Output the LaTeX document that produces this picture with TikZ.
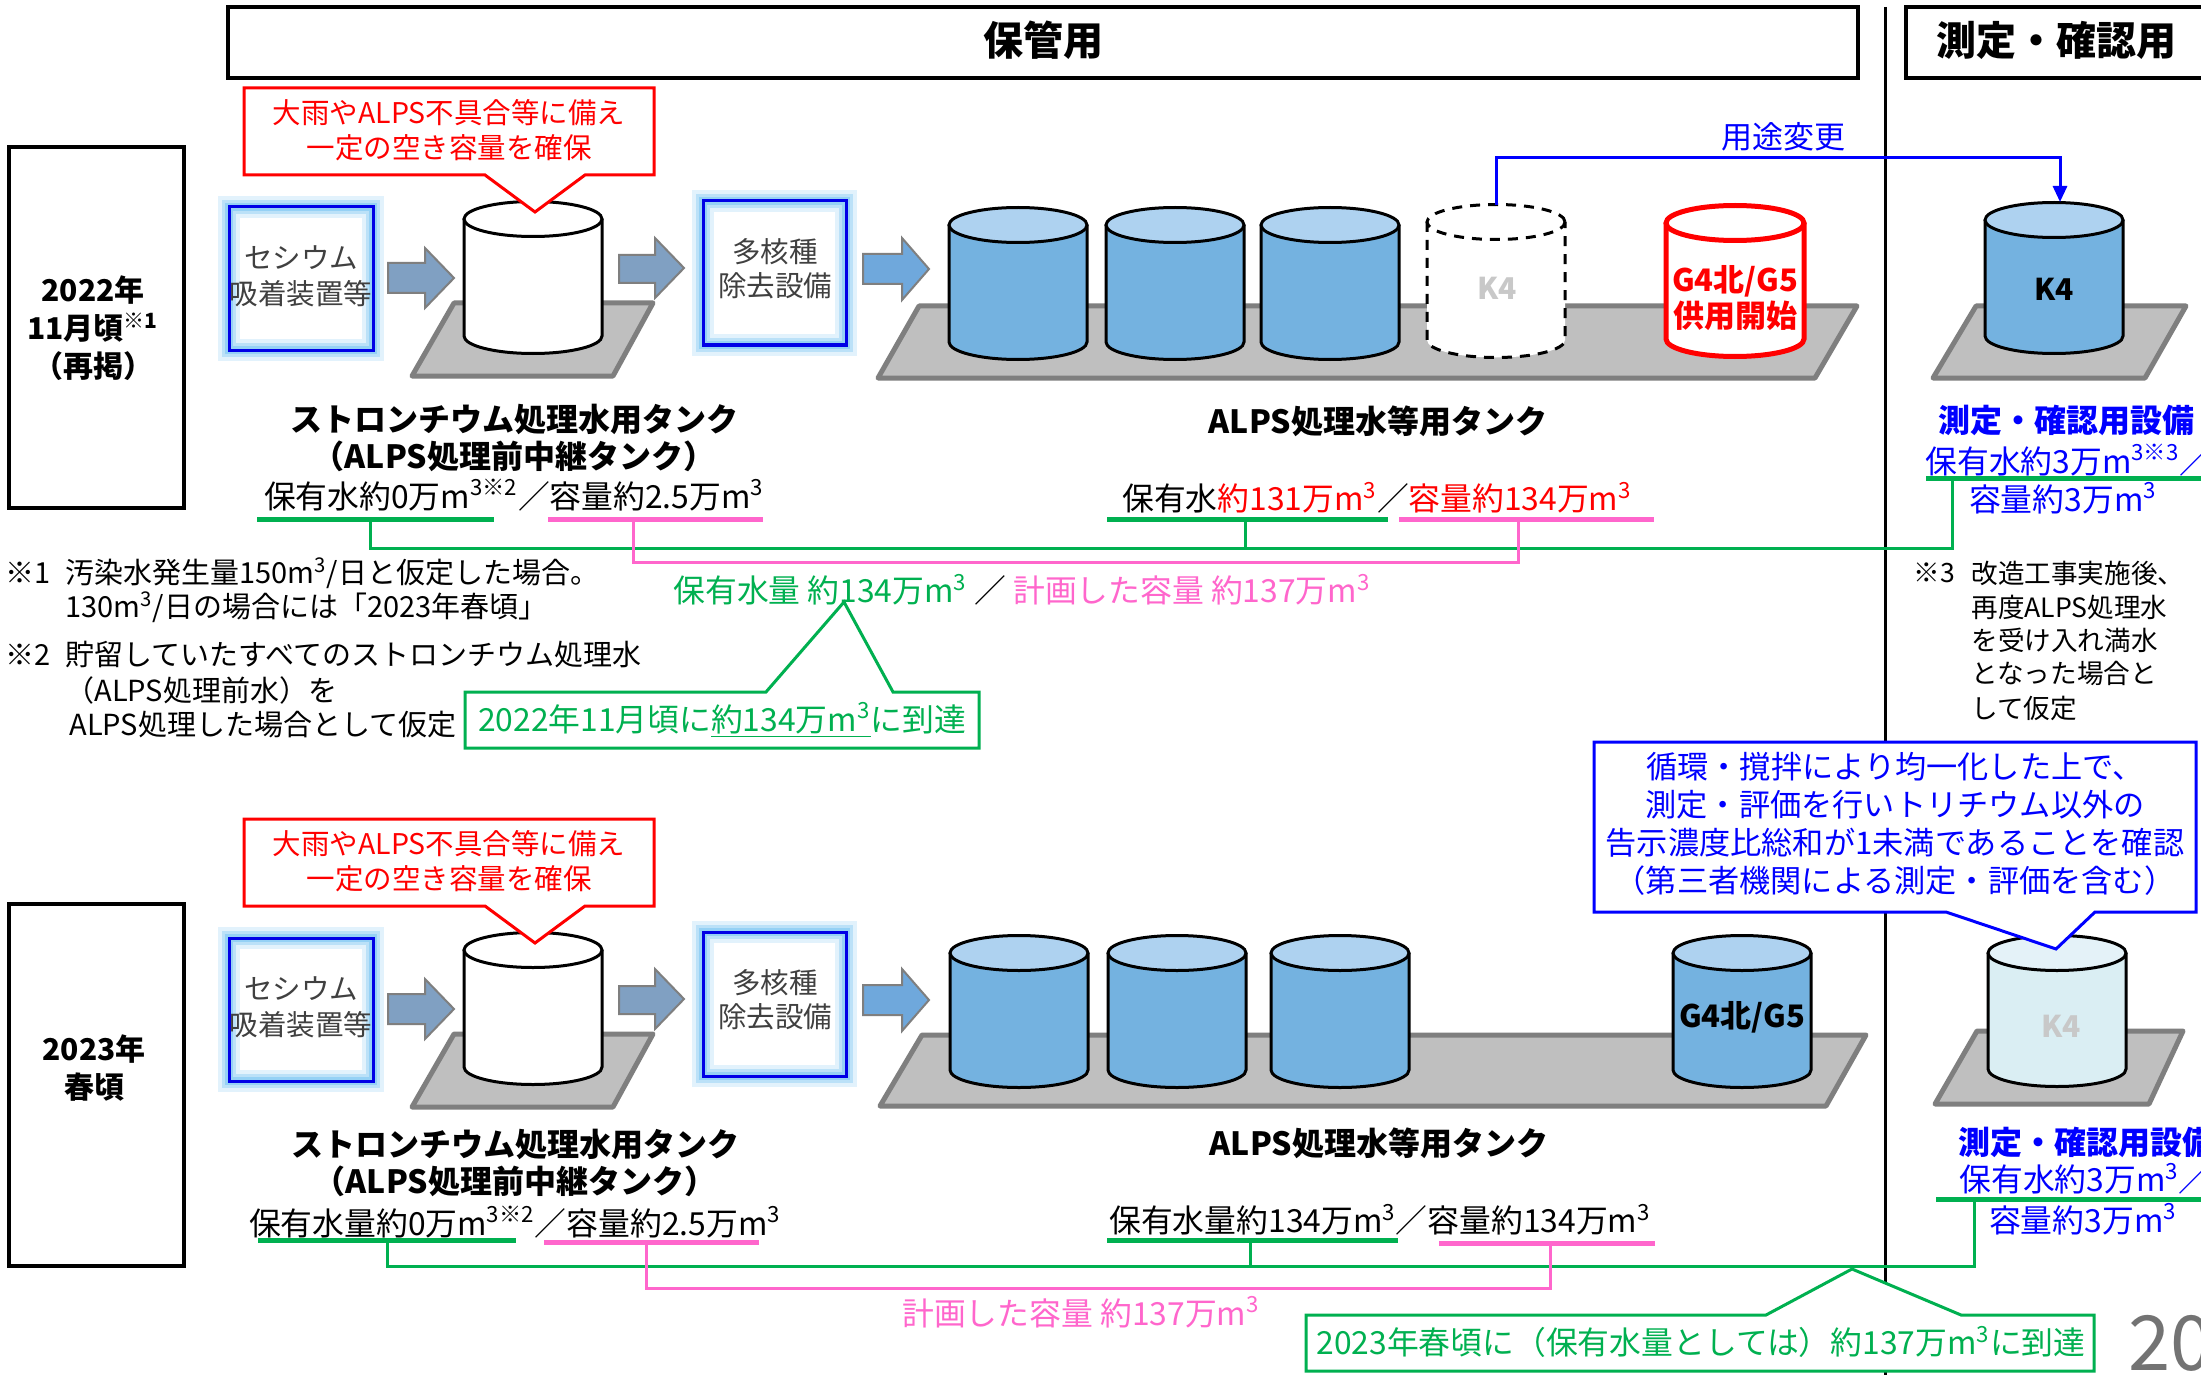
\documentclass[tikz,border=0pt]{standalone}
\usepackage{fontspec}
\setmainfont{Noto Sans CJK JP}
\usetikzlibrary{arrows.meta}
\definecolor{gr}{RGB}{0,176,80}
\definecolor{pk}{RGB}{255,102,204}
\definecolor{bl}{RGB}{0,0,255}
\definecolor{rd}{RGB}{255,0,0}
\definecolor{platf}{RGB}{191,191,191}
\definecolor{platd}{RGB}{127,127,127}
\definecolor{tbody}{RGB}{116,178,224}
\definecolor{ttop}{RGB}{174,210,240}
\definecolor{lbody}{RGB}{218,238,243}
\definecolor{ltop}{RGB}{228,242,248}
\definecolor{arrA}{RGB}{128,160,194}
\definecolor{arrB}{RGB}{111,168,220}
\definecolor{glowc}{RGB}{140,205,245}
\definecolor{boxblue}{RGB}{0,0,230}
\definecolor{ktext}{RGB}{200,200,200}
\newcommand\fsz[2]{\fontsize{#1pt}{#2pt}\selectfont}
% tank: cx, top cy (px), body height (pt), body colour, top colour, line style
\newcommand\tank[6]{%
  \begin{scope}[shift={(#1,#2)}]
    \fill[#4] (-34.5pt,0pt) -- (-34.5pt,-#3) arc[start angle=180,end angle=360,x radius=34.5pt,y radius=8.75pt] -- (34.5pt,0pt) -- cycle;
    \draw[#6] (-34.5pt,0pt) -- (-34.5pt,-#3) arc[start angle=180,end angle=360,x radius=34.5pt,y radius=8.75pt] -- (34.5pt,0pt);
    \filldraw[fill=#5,#6] (0pt,0pt) ellipse[x radius=34.5pt,y radius=8.75pt];
  \end{scope}}
\newcommand\glowbox[2]{%
  \fill[white] #1 rectangle #2;
  \draw[glowc,opacity=0.25,line width=11pt] #1 rectangle #2;
  \draw[glowc,opacity=0.45,line width=7pt] #1 rectangle #2;
  \draw[glowc,opacity=0.8,line width=4pt] #1 rectangle #2;
  \draw[boxblue,line width=1.5pt] #1 rectangle #2;}
\begin{document}
\begin{tikzpicture}[x=0.5pt,y=-0.5pt,
  t/.style={inner sep=0pt,align=center,font=\fsz{15.9}{19}},
  tb/.style={inner sep=0pt,align=center,font=\bfseries\fsz{16}{19}},
  note/.style={inner sep=0pt,anchor=west,font=\fsz{14.5}{18}},
  noteR/.style={inner sep=0pt,anchor=west,font=\fsz{13.3}{17}},
  hdr/.style={draw=black,line width=2pt,fill=white},
  yearbox/.style={draw=black,line width=2pt},
  platform/.style={fill=platf,draw=platd,line width=2.5pt,line join=round},
  parr/.style={fill=#1,draw=platd,line width=1pt},
  redcall/.style={draw=rd,line width=1.5pt,fill=white},
  bluecall/.style={draw=bl,line width=1.5pt,fill=white},
  greencall/.style={draw=gr,line width=1.5pt,fill=white},
  gline/.style={draw=gr,line width=1.5pt},
  pline/.style={draw=pk,line width=1.5pt},
  gul/.style={draw=gr,line width=2.5pt},
  pul/.style={draw=pk,line width=2.5pt},
  tline/.style={draw=black,line width=1.5pt},
  kdash/.style={draw=black,line width=1.5pt,dash pattern=on 5pt off 4pt},
  rline/.style={draw=rd,line width=2.5pt}]
\useasboundingbox (0,0) rectangle (2201,1375);
\fill[white] (0,0) rectangle (2201,1375);

% divider
\coordinate (divtop) at (1885,7);
\coordinate (divbot) at (1885,1375);
\draw[line width=1.5pt] (divtop) -- (divbot);

% headers
\draw[hdr] (228,7) rectangle (1858,78);
\node (hd1) at (1043,40) [tb,font=\bfseries\fsz{20}{24}] {保管用};
\draw[hdr] (1906,7) rectangle (2260,78);
\node (hd2) at (2056,40) [tb,font=\bfseries\fsz{20}{24}] {測定・確認用};

% year boxes
\draw[yearbox] (9,147) rectangle (184,508);
\node (yr1) at (93,328) [tb,font=\bfseries\fsz{15}{19}] {2022年\\11月頃\textsuperscript{※1}\\（再掲）};
\draw[yearbox] (9,904) rectangle (184,1266);
\node (yr2) at (94,1068) [tb,font=\bfseries\fsz{15}{19}] {2023年\\春頃};

% process chains (top and bottom)
\foreach \dy/\s in {0/a,731/b}{
\begin{scope}[shift={(0,\dy)}]
  \draw[platform] (454,303) -- (653,303) -- (613,376) -- (412,376) -- cycle;
  \tank{533}{219}{58.5pt}{white}{white}{tline}
  \draw[parr=arrA] (388,263) -- (425,263) -- (425,248) -- (454,278) -- (425,308) -- (425,293) -- (388,293) -- cycle;
  \draw[parr=arrA] (619,255) -- (655,255) -- (655,238) -- (684,268) -- (655,298) -- (655,283) -- (619,283) -- cycle;
  \draw[parr=arrB] (863,254) -- (902,254) -- (902,238) -- (929,269) -- (902,300) -- (902,284) -- (863,284) -- cycle;
  \glowbox{(229,207)}{(373,350)}
  \node (ces\s) at (301,276) [t,text=black!75,font=\fsz{14.25}{18}] {セシウム\\吸着装置等};
  \glowbox{(703,201)}{(846,345)}
  \node (mnr\s) at (775,269) [t,text=black!75,font=\fsz{14.25}{17}] {多核種\\除去設備};
  \draw[redcall] (244,88) -- (654,88) -- (654,175) -- (585,175) -- (535,212) -- (485,175) -- (244,175) -- cycle;
  \node (rc\s) at (449,130) [t,text=rd,font=\fsz{14.25}{17.5}] {大雨やALPS不具合等に備え\\一定の空き容量を確保};
\end{scope}}

% ---------- top row ALPS tanks ----------
\draw[platform] (919,306) -- (1857,306) -- (1815,378) -- (878,378) -- cycle;
\tank{1018}{225}{58.5pt}{tbody}{ttop}{tline}
\tank{1175}{225}{58.5pt}{tbody}{ttop}{tline}
\tank{1330}{225}{58.5pt}{tbody}{ttop}{tline}
\tank{1496}{222}{59pt}{white}{white}{kdash}
\node (k4d) at (1497,288) [tb,text=ktext,font=\bfseries\fsz{15}{19}] {K4};
\tank{1735}{223}{58pt}{white}{white}{rline}
\node (g4a) at (1735,298) [tb,text=rd,font=\bfseries\fsz{15.5}{18}] {G4北/G5\\供用開始};

% right column top
\draw[platform] (1976,306) -- (2186,306) -- (2145,378) -- (1933,378) -- cycle;
\tank{2054}{220}{58pt}{tbody}{ttop}{tline}
\node (k4r) at (2054,289) [tb,font=\bfseries\fsz{15}{19}] {K4};

% usage change arrow
\coordinate (k4dtop) at (1496,205);
\coordinate (k4rtop) at (2060,202);
\draw[bl,line width=1.5pt,-{Triangle[length=8pt,width=7pt]}] (k4dtop) -- ++(0,-47) -| (k4rtop);
\node (yt) at (1783,137) [t,text=bl,font=\fsz{15.5}{19}] {用途変更};

% labels top
\node (st1) at (514,419) [tb] {ストロンチウム処理水用タンク};
\node (st1b) at (514,456) [tb] {（ALPS処理前中継タンク）};
\node (st1c) at (514,495) [t] {保有水約0万m\textsuperscript{3※2}／容量約2.5万m\textsuperscript{3}};
\node (al1) at (1378,421) [tb] {ALPS処理水等用タンク};
\node (al1c) at (1377,498) [t] {保有水{\color{rd}約131万m\textsuperscript{3}}／{\color{rd}容量約134万m\textsuperscript{3}}};
\node (mk1) at (1938,420) [tb,anchor=west,text=bl] {測定・確認用設備};
\node (mk1b) at (1925,460) [t,anchor=west,text=bl] {保有水約3万m\textsuperscript{3※3}／};
\node (mk1c) at (2063,498) [t,text=bl] {容量約3万m\textsuperscript{3}};

% underlines & connectors top
\draw[gul] (257,519) -- (494,519);
\draw[pul] (548,519) -- (763,519);
\draw[gul] (1107,519) -- (1388,519);
\draw[pul] (1399,519) -- (1654,519);
\draw[gul] (1926,478) -- (2210,478);
\coordinate (gA1) at (370,519);
\coordinate (gA2) at (1245,519);
\coordinate (gA3) at (1952,478);
\coordinate (gAbus) at (0,548);
\coordinate (pA1) at (633,519);
\coordinate (pA2) at (1518,519);
\coordinate (pAbus) at (0,562);
\draw[gline] (gA1) -- (gA1 |- gAbus) -| (gA3);
\draw[gline] (gA2) -- (gA2 |- gAbus);
\draw[pline] (pA1) -- (pA1 |- pAbus) -| (pA2);

\node (mid1) at (1022,590) [t] {{\color{gr}保有水量 約134万m\textsuperscript{3}} ／ {\color{pk}計画した容量 約137万m\textsuperscript{3}}};
\coordinate (gc1tip) at (844,602);
\draw[greencall] (465,692) -- (766,692) -- (gc1tip) -- (893,692) -- (979,692) -- (979,748) -- (465,748) -- cycle;
\node (gc1) at (722,720) [t,text=gr] {2022年11月頃に\underline{約134万m\textsuperscript{3}}に到達};

% notes left
\node (n1a) at (5,573) [note] {※1};
\node (n1b) at (65,573) [note] {汚染水発生量150m\textsuperscript{3}/日と仮定した場合。};
\node (n1c) at (65,607) [note] {130m\textsuperscript{3}/日の場合には「2023年春頃」};
\node (n2a) at (5,655) [note] {※2};
\node (n2b) at (65,655) [note] {貯留していたすべてのストロンチウム処理水};
\node (n2c) at (65,690) [note] {（ALPS処理前水）を};
\node (n2d) at (69,725) [note] {ALPS処理した場合として仮定};

% notes right
\node (n3a) at (1913,573) [noteR] {※3};
\node (n3b) at (1971,573) [noteR] {改造工事実施後、};
\node (n3c) at (1971,607) [noteR] {再度ALPS処理水};
\node (n3d) at (1971,640) [noteR] {を受け入れ満水};
\node (n3e) at (1971,673) [noteR] {となった場合と};
\node (n3f) at (1971,708) [noteR] {して仮定};

% ---------- bottom row ----------
\draw[platform] (922,1035) -- (1866,1035) -- (1826,1106) -- (880,1106) -- cycle;
\tank{1019}{953}{58.5pt}{tbody}{ttop}{tline}
\tank{1177}{953}{58.5pt}{tbody}{ttop}{tline}
\tank{1340}{953}{58.5pt}{tbody}{ttop}{tline}
\tank{1742}{953}{58.5pt}{tbody}{ttop}{tline}
\node (g4b) at (1742,1017) [tb,font=\bfseries\fsz{15.5}{18}] {G4北/G5};

\draw[platform] (1977,1031) -- (2183,1031) -- (2149,1104) -- (1935,1104) -- cycle;
\tank{2057}{953}{58pt}{lbody}{ltop}{tline}
\node (k4l) at (2061,1026) [tb,text=ktext,font=\bfseries\fsz{15}{19}] {K4};

% blue callout
\coordinate (bctip) at (2056,949);
\draw[bluecall] (1594,742) -- (2196,742) -- (2196,912) -- (2095,912) -- (bctip) -- (1946,912) -- (1594,912) -- cycle;
\node (bc) at (1895,824) [t,text=bl,font=\fsz{15.6}{19}] {循環・撹拌により均一化した上で、\\測定・評価を行いトリチウム以外の\\告示濃度比総和が1未満であることを確認\\（第三者機関による測定・評価を含む）};

% labels bottom
\node (st2) at (515,1144) [tb] {ストロンチウム処理水用タンク};
\node (st2b) at (515,1181) [tb] {（ALPS処理前中継タンク）};
\node (st2c) at (515,1222) [t] {保有水量約0万m\textsuperscript{3※2}／容量約2.5万m\textsuperscript{3}};
\node (al2) at (1379,1143) [tb] {ALPS処理水等用タンク};
\node (al2c) at (1380,1220) [t] {保有水量約134万m\textsuperscript{3}／容量約134万m\textsuperscript{3}};
\node (mk2) at (1958,1142) [tb,anchor=west,text=bl] {測定・確認用設備};
\node (mk2b) at (1959,1179) [t,anchor=west,text=bl] {保有水約3万m\textsuperscript{3}／};
\node (mk2c) at (2083,1219) [t,text=bl] {容量約3万m\textsuperscript{3}};

\draw[gul] (258,1240) -- (516,1240);
\draw[pul] (544,1242) -- (759,1242);
\draw[gul] (1107,1240) -- (1398,1240);
\draw[pul] (1439,1243) -- (1655,1243);
\draw[gul] (1936,1199) -- (2210,1199);
\coordinate (gB1) at (387,1240);
\coordinate (gB2) at (1250,1240);
\coordinate (gB3) at (1974,1199);
\coordinate (gBbus) at (0,1266);
\coordinate (pB1) at (646,1242);
\coordinate (pB2) at (1550,1243);
\coordinate (pBbus) at (0,1288);
\draw[gline] (gB1) -- (gB1 |- gBbus) -| (gB3);
\draw[gline] (gB2) -- (gB2 |- gBbus);
\draw[pline] (pB1) -- (pB1 |- pBbus) -| (pB2);

\node (pl2) at (1081,1312) [t,text=pk] {計画した容量 約137万m\textsuperscript{3}};
\coordinate (gc2tip) at (1852,1269);
\draw[greencall] (1306,1315) -- (1766,1315) -- (gc2tip) -- (1961,1315) -- (2094,1315) -- (2094,1371) -- (1306,1371) -- cycle;
\node (gc2) at (1701,1342) [t,text=gr] {2023年春頃に（保有水量としては）約137万m\textsuperscript{3}に到達};

\node (pg) at (2128,1343) [t,anchor=west,text=black!55,font=\fsz{38}{40}] {20};
\end{tikzpicture}
\end{document}
